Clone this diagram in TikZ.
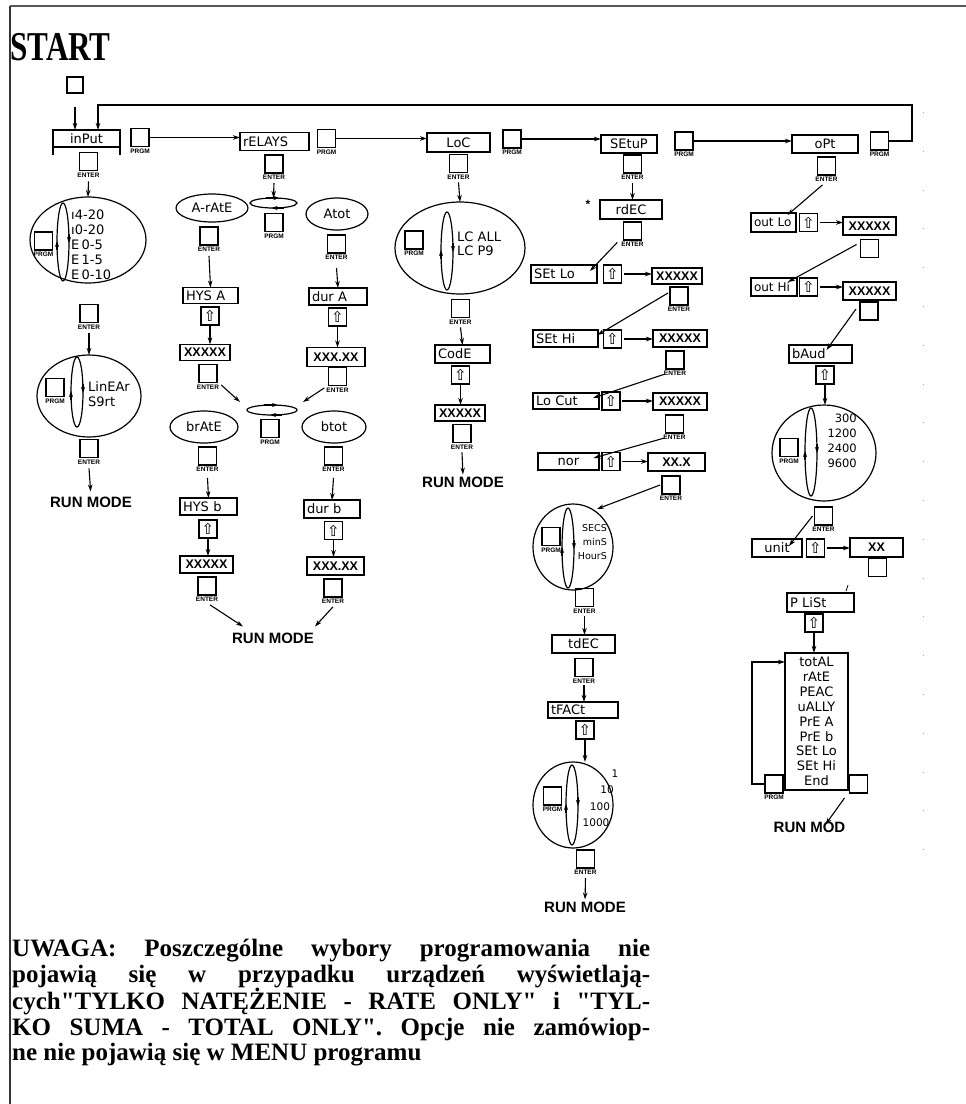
\documentclass[tikz,border=0pt]{standalone}
\usepackage{fontspec}
\setmainfont{Liberation Serif}[Ligatures=TeXOff]
\newfontfamily\dispf{DejaVu Sans}
\newfontfamily\lblf{Liberation Sans}
\usetikzlibrary{shapes.geometric,arrows.meta,calc}
\frenchspacing
\tikzset{
  box/.style={draw, line width=1.2pt, inner sep=0pt, outer sep=0pt, font=\dispf\fontsize{13}{13}\selectfont},
  xbox/.style={draw, line width=1.2pt, inner sep=0pt, outer sep=0pt, font=\lblf\bfseries\fontsize{12.5}{12.5}\selectfont},
  key/.style={draw, line width=1.2pt, minimum width=18pt, minimum height=18pt, inner sep=0pt, outer sep=0pt},
  upk/.style={draw, line width=1.2pt, minimum width=18pt, minimum height=18pt, inner sep=0pt, outer sep=0pt, font=\dispf\fontsize{15}{15}\selectfont},
  lbl/.style={font=\lblf\bfseries\fontsize{6.5}{6.5}\selectfont, inner sep=0pt},
  run/.style={font=\lblf\bfseries\fontsize{15}{15}\selectfont, inner sep=0pt},
  dtxt/.style={font=\dispf\fontsize{13}{13}\selectfont, inner sep=0pt},
  stxt/.style={font=\dispf\fontsize{9.5}{9.5}\selectfont, inner sep=0pt},
  oval/.style={draw, ellipse, line width=1.2pt, inner sep=0pt, outer sep=0pt},
  arr/.style={line width=1.1pt, -{Stealth[length=7pt,width=4.5pt]}},
  tipa/.style={line width=1.1pt, -{Stealth[length=6pt,width=4pt]}}
}
\newcommand\mykey[4]{%
  \node[key] (#1) at (#2,#3) {};
  \node[lbl,anchor=north] (#1l) at ([yshift=-2pt]#1.south) {#4};}
\newcommand\myloop[4]{%
  \node[oval, minimum width=12pt, minimum height=#4] (#1) at (#2,#3) {};
  \draw[tipa] ([yshift=-8pt]#1.west) -- ([yshift=1pt]#1.west);
  \draw[tipa] ([yshift=8pt]#1.east) -- ([yshift=-1pt]#1.east);}
\newcommand\myswap[4]{%
  \node[oval, minimum width=#4, minimum height=10pt] (#1) at (#2,#3) {};
  \draw[tipa] ([xshift=-8pt]#1.north) -- ([xshift=6pt]#1.north);
  \draw[tipa] ([xshift=10pt]#1.south) -- ([xshift=-2pt]#1.south);}
\begin{document}
\begin{tikzpicture}[x=1pt,y=-1pt]
\useasboundingbox (0,0) rectangle (966,1104);
% frame
\draw[line width=2pt, black!65] (10,6) -- (966,6);
\draw[line width=1.2pt, black!80] (10,6) -- (10,1104);
\draw[black!35, line width=0.8pt, dash pattern=on 0.8pt off 38pt] (923,112) -- (923,860);

\node[font=\bfseries\fontsize{41}{41}\selectfont, anchor=base west, inner sep=0pt] (start) at (10,60) {\scalebox{0.76}[1]{START}};

% ---------- column 1: inPut
\node[key, minimum width=16pt, minimum height=16pt] (sq0) at (75,85) {};
\node[box, minimum width=67pt, minimum height=17pt] (inp) at (86.5,138.5) {inPut};
\draw[line width=1.2pt] (inp.south west) -- ++(0,8);
\draw[line width=1.2pt] (inp.south east) -- ++(0,8);
\draw[arr] ([yshift=-14pt]sq0.south) -- (sq0.south |- inp.north);
\mykey{inpP}{140}{137.5}{PRGM}
\mykey{inpE}{88.5}{161.5}{ENTER}
\node[oval, minimum width=116pt, minimum height=86pt] (ell1) at (88,240) {};
\draw[arr] ([yshift=-4pt]inpEl.south) -- (ell1.north);
\mykey{e1P}{43.5}{241}{PRGM}
\myloop{lp1}{63}{242}{78pt}
\node[dtxt, anchor=west] (i1) at (71,215) {ı4-20};
\node[dtxt, anchor=west] (i2) at (71,230) {ı0-20};
\node[dtxt, anchor=west] (i3) at (71,245) {E\,0-5};
\node[dtxt, anchor=west] (i4) at (71,260) {E\,1-5};
\node[dtxt, anchor=west] (i5) at (71,275) {E\,0-10};
\mykey{e1E}{89}{313.5}{ENTER}
\node[oval, minimum width=104pt, minimum height=82pt] (ell2) at (89,396) {};
\draw[arr] ([yshift=-4pt]e1El.south) -- (ell2.north);
\mykey{e2P}{55}{387.5}{PRGM}
\myloop{lp2}{77}{392}{70pt}
\node[dtxt, anchor=west] (l1) at (88,387) {LinEAr};
\node[dtxt, anchor=west] (l2) at (88,402) {S9rt};
\mykey{e2E}{89}{448.5}{ENTER}
\node[run] (run1) at (91,502) {RUN MODE};
\draw[arr, shorten >=5pt] ([yshift=-4pt]e2El.south) -- (run1.north);

% ---------- column 2: rELAYS
\node[box, minimum height=18pt, text width=63pt, inner xsep=3pt, align=left] (rel) at (274.5,141.5) {rELAYS};
\draw[arr] (inpP.east) -- (inpP.east -| rel.west);
\mykey{relP}{326.5}{138.5}{PRGM}
\mykey{relE}{274}{164}{ENTER}
\myswap{sw1}{273.5}{203}{47pt}
\draw[arr] ([yshift=-3pt]relEl.south) -- (sw1.north);
\mykey{sw1P}{274}{222.5}{PRGM}
\node[oval, minimum width=72pt, minimum height=28pt, font=\dispf\fontsize{13}{13}\selectfont] (arate) at (212,208) {A-rAtE};
\mykey{araE}{209}{236}{ENTER}
\node[box, minimum height=16pt, text width=49pt, inner xsep=3pt, align=left] (hysa) at (210.5,295.5) {HYS A};
\draw[arr] ([yshift=-4pt]araEl.south) -- (hysa.north);
\node[upk] (uka) at (210,316) {⇧};
\node[xbox, minimum width=50pt, minimum height=16pt] (xa) at (205,352.5) {XXXXX};
\draw[arr] (uka.south) -- (uka.south |- xa.north);
\mykey{xaE}{208}{373.5}{ENTER}
\node[oval, minimum width=62pt, minimum height=32pt, font=\dispf\fontsize{13}{13}\selectfont] (atot) at (337,214) {Atot};
\mykey{atE}{336.5}{244}{ENTER}
\node[box, minimum height=17pt, text width=52pt, inner xsep=3pt, align=left] (dura) at (338,296.5) {dur A};
\draw[arr] ([yshift=-8pt]atEl.south) -- (dura.north);
\node[upk] (ukA2) at (337.5,317) {⇧};
\node[xbox, minimum width=58pt, minimum height=19pt] (xxa) at (336,357) {XXX.XX};
\draw[arr] (ukA2.south) -- (ukA2.south |- xxa.north);
\mykey{xxaE}{337.5}{376.5}{ENTER}
\myswap{sw2}{272}{410}{50pt}
\draw[arr] ([xshift=2pt,yshift=2pt]xaEl.east) -- ([xshift=-7pt,yshift=8pt]sw2.west);
\draw[arr] ([xshift=-2pt,yshift=2pt]xxaEl.west) -- ([xshift=6pt,yshift=8pt]sw2.east);
\mykey{sw2P}{270}{428.5}{PRGM}
\node[oval, minimum width=68pt, minimum height=32pt, font=\dispf\fontsize{13}{13}\selectfont] (brate) at (204,427) {brAtE};
\mykey{brE}{207.5}{456}{ENTER}
\node[box, minimum height=17pt, text width=51pt, inner xsep=3pt, align=left] (hysb) at (208.5,506.5) {HYS b};
\draw[arr] ([yshift=-6pt]brEl.south) -- (hysb.north);
\node[upk] (ukb) at (208,529) {⇧};
\node[xbox, minimum width=53pt, minimum height=17pt] (xb) at (206.5,564.5) {XXXXX};
\draw[arr] (ukb.south) -- (ukb.south |- xb.north);
\mykey{xbE}{207}{586}{ENTER}
\node[oval, minimum width=64pt, minimum height=32pt, font=\dispf\fontsize{13}{13}\selectfont] (btot) at (334,427) {btot};
\mykey{btE}{333.5}{456}{ENTER}
\node[box, minimum height=18pt, text width=50pt, inner xsep=3pt, align=left] (durb) at (332,509) {dur b};
\draw[arr] ([yshift=-6pt]btEl.south) -- (durb.north);
\node[upk] (ukB2) at (333.5,530.5) {⇧};
\node[xbox, minimum width=57pt, minimum height=18pt] (xxb) at (335.5,566) {XXX.XX};
\draw[arr] (ukB2.south) -- (ukB2.south |- xxb.north);
\mykey{xxbE}{333}{588}{ENTER}
\node[run] (run2) at (273,638) {RUN MODE};
\draw[arr] ([xshift=3pt,yshift=-3pt]xbEl.south) -- ([xshift=-30pt,yshift=6pt]run2.north);
\draw[arr] ([xshift=0pt,yshift=-3pt]xxbEl.south) -- ([xshift=42pt,yshift=6pt]run2.north);

% ---------- column 3: LoC
\node[box, minimum width=63pt, minimum height=19pt] (loc) at (458.5,142.5) {LoC};
\draw[arr] (relP.east) -- (relP.east -| loc.west);
\mykey{locP}{512}{139}{PRGM}
\mykey{locE}{458.5}{163.5}{ENTER}
\node[oval, minimum width=130pt, minimum height=92pt] (locell) at (460,248) {};
\draw[arr] ([yshift=-3pt]locEl.south) -- (locell.north);
\mykey{lcP}{414}{240}{PRGM}
\myloop{lp3}{447}{251}{78pt}
\node[dtxt, anchor=west] (lc1) at (457,237) {LC ALL};
\node[dtxt, anchor=west] (lc2) at (457,251) {LC P9};
\mykey{lcE}{460.5}{308.5}{ENTER}
\node[box, minimum height=18pt, text width=49pt, inner xsep=3pt, align=left] (code) at (462.5,354) {CodE};
\draw[arr] ([yshift=-3pt]lcEl.south) -- (code.north);
\node[upk] (ukc) at (460.5,375) {⇧};
\node[xbox, minimum width=50pt, minimum height=16pt] (xc) at (460,413) {XXXXX};
\draw[arr] (ukc.south) -- (ukc.south |- xc.north);
\mykey{xcE}{462}{433.5}{ENTER}
\node[run] (run3) at (463,482) {RUN MODE};
\draw[arr, shorten >=2pt] ([yshift=-3pt]xcEl.south) -- (run3.north);

% ---------- column 4: SEtuP
\node[box, minimum width=56pt, minimum height=18pt] (setup) at (629,144) {SEtuP};
\draw[arr] (locP.east) -- (locP.east -| setup.west);
\mykey{setP}{684}{141}{PRGM}
\mykey{setE}{632.5}{164}{ENTER}
\node[font=\lblf\bfseries\fontsize{12}{12}\selectfont, inner sep=0pt] (star) at (588,204) {*};
\node[box, minimum width=62pt, minimum height=19pt] (rdec) at (631,209.5) {rdEC};
\draw[arr] ([yshift=-3pt]setEl.south) -- (rdec.north -| setE);
\mykey{rdE}{632.5}{231}{ENTER}
\node[box, minimum height=18pt, text width=60pt, inner xsep=3pt, align=left] (setlo) at (564,274) {SEt Lo};
\draw[arr] ([xshift=-4pt,yshift=2pt]rdEl.west) -- ([xshift=26pt,yshift=-6pt]setlo.north);
\node[upk] (uk1) at (612.5,274) {⇧};
\node[xbox, minimum width=50pt, minimum height=16pt] (x1) at (677,276) {XXXXX};
\draw[arr] ([xshift=2pt]uk1.east) -- (uk1.east -| x1.west);
\mykey{x1E}{679}{296}{ENTER}
\node[box, minimum height=17pt, text width=59pt, inner xsep=3pt, align=left] (sethi) at (565.5,338.5) {SEt Hi};
\draw[arr] ([xshift=-2pt,yshift=3pt]x1E.west) -- ([xshift=32pt,yshift=-5pt]sethi.north);
\node[upk] (uk2) at (612.5,339) {⇧};
\node[xbox, minimum width=54pt, minimum height=17pt] (x2) at (680,338.5) {XXXXX};
\draw[arr] ([xshift=2pt]uk2.east) -- (uk2.east -| x2.west);
\mykey{x2E}{675}{360}{ENTER}
\node[box, minimum height=16pt, text width=60pt, inner xsep=3pt, align=left] (locut) at (566,401) {Lo Cut};
\draw[arr] ([xshift=-10pt,yshift=-5pt]x2E.south) -- ([xshift=27pt,yshift=-5pt]locut.north);
\node[upk] (uk3) at (611,401) {⇧};
\node[xbox, minimum width=54pt, minimum height=17pt] (x3) at (680,401.5) {XXXXX};
\draw[arr] ([xshift=2pt]uk3.east) -- (uk3.east -| x3.west);
\mykey{x3E}{674.5}{424}{ENTER}
\node[box, minimum width=61pt, minimum height=17pt] (nor) at (568.5,461.5) {nor};
\draw[arr] ([xshift=-10pt,yshift=-5pt]x3E.south) -- ([xshift=25pt,yshift=-5pt]nor.north);
\node[upk] (uk4) at (611,461.5) {⇧};
\node[xbox, minimum width=57pt, minimum height=18pt] (x4) at (676.5,462) {XX.X};
\draw[arr] ([xshift=2pt]uk4.east) -- (uk4.east -| x4.west);
\mykey{x4E}{671}{485}{ENTER}
\node[oval, minimum width=80pt, minimum height=86pt] (tell) at (573,547) {};
\draw[arr] ([xshift=-2pt]x4E.west) -- ([xshift=24pt,yshift=-5pt]tell.north);
\mykey{tP}{551}{536.5}{PRGM}
\myloop{lp4}{568}{548}{80pt}
\node[stxt, anchor=east] (s1) at (607,528) {SECS};
\node[stxt, anchor=east] (s2) at (607,542) {minS};
\node[stxt, anchor=east] (s3) at (607,556) {HourS};
\mykey{tE}{584.5}{597.5}{ENTER}
\node[box, minimum width=63pt, minimum height=18pt] (tdec) at (583.5,644) {tdEC};
\draw[arr] ([yshift=-3pt]tEl.south) -- (tdec.north -| tE);
\mykey{tdE}{584}{667.5}{ENTER}
\node[box, minimum height=16pt, text width=64pt, inner xsep=3pt, align=left] (tfact) at (583,710) {tFACt};
\draw[arr] ([yshift=-2pt]tdEl.south) -- (tfact.north -| tdE);
\node[upk] (ukt) at (585,730) {⇧};
\node[oval, minimum width=80pt, minimum height=86pt] (fell) at (573,805) {};
\draw[arr] (ukt.south) -- (ukt.south |- fell.north);
\mykey{fP}{552.5}{796}{PRGM}
\myloop{lp5}{572}{805}{80pt}
\node[stxt, font=\dispf\fontsize{10.5}{10.5}\selectfont] (f1) at (615,774) {1};
\node[stxt, font=\dispf\fontsize{10.5}{10.5}\selectfont] (f2) at (607,790) {10};
\node[stxt, font=\dispf\fontsize{10.5}{10.5}\selectfont] (f3) at (600,807) {100};
\node[stxt, font=\dispf\fontsize{10.5}{10.5}\selectfont] (f4) at (596,823) {1000};
\mykey{fE}{585.5}{859}{ENTER}
\node[run] (run4) at (585,907) {RUN MODE};
\draw[arr, shorten >=2pt] ([yshift=-3pt]fEl.south) -- (run4.north);

% ---------- column 5: oPt
\node[box, minimum width=66pt, minimum height=18pt] (opt) at (825,144) {oPt};
\draw[arr] (setP.east) -- (setP.east -| opt.west);
\mykey{optP}{879.5}{141}{PRGM}
\coordinate (fbR) at (912,105);
\coordinate (fbL) at (98,105);
\draw[arr, line width=1.6pt] (optP.east) -| (fbR) -- (fbL) -- (fbL |- inp.north);
\mykey{optE}{826.5}{166}{ENTER}
\node[box, font=\dispf\fontsize{12}{12}\selectfont, minimum height=19pt, text width=39pt, inner xsep=3pt, align=left] (outlo) at (773.5,222.5) {out Lo};
\draw[arr] ([xshift=-4pt,yshift=-3pt]optEl.south) -- ([xshift=14pt,yshift=-2pt]outlo.north);
\node[upk] (uk5) at (808.5,222.5) {⇧};
\node[xbox, minimum width=53pt, minimum height=18pt] (x5) at (869.5,226) {XXXXX};
\draw[arr] ([xshift=2pt]uk5.east) -- (uk5.east -| x5.west);
\node[key] (x5k) at (869.5,248.5) {};
\node[box, font=\dispf\fontsize{12}{12}\selectfont, minimum height=18pt, text width=40pt, inner xsep=3pt, align=left] (outhi) at (774,287) {out Hi};
\draw[arr] ([xshift=-4pt,yshift=4pt]x5k.west) -- ([xshift=14pt,yshift=-4pt]outhi.north);
\node[upk] (uk6) at (808.5,287) {⇧};
\node[xbox, minimum width=53pt, minimum height=18pt] (x6) at (869.5,291) {XXXXX};
\draw[arr] ([xshift=2pt]uk6.east) -- (uk6.east -| x6.west);
\node[key] (x6k) at (869,311) {};
\node[box, minimum height=18pt, text width=57pt, inner xsep=3pt, align=left] (baud) at (820.5,354) {bAud};
\draw[arr] ([xshift=-4pt,yshift=2pt]x6k.west) -- ([xshift=6pt,yshift=-5pt]baud.north);
\node[upk] (ukbd) at (825,375) {⇧};
\node[oval, minimum width=104pt, minimum height=96pt] (bell) at (824,453) {};
\draw[arr] (ukbd.south) -- (ukbd.south |- bell.north);
\mykey{bP}{789}{447.5}{PRGM}
\myloop{lp6}{811}{452}{88pt}
\node[dtxt, font=\dispf\fontsize{11.5}{11.5}\selectfont, anchor=east] (b1) at (857,418) {300};
\node[dtxt, font=\dispf\fontsize{11.5}{11.5}\selectfont, anchor=east] (b2) at (857,433) {1200};
\node[dtxt, font=\dispf\fontsize{11.5}{11.5}\selectfont, anchor=east] (b3) at (857,448) {2400};
\node[dtxt, font=\dispf\fontsize{11.5}{11.5}\selectfont, anchor=east] (b4) at (857,463) {9600};
\mykey{bE}{823.5}{516}{ENTER}
\node[box, minimum width=50pt, minimum height=18pt] (unit) at (777,548) {unit};
\draw[arr] ([xshift=-2pt]bE.west) -- ([xshift=12pt,yshift=-7pt]unit.north);
\node[upk] (uk7) at (815.5,548) {⇧};
\node[xbox, minimum width=53pt, minimum height=19pt] (xx7) at (876.5,547.5) {XX};
\draw[arr] ([xshift=2pt]uk7.east) -- (uk7.east -| xx7.west);
\node[key] (xx7k) at (877.5,567.5) {};
\coordinate (tk1) at (846,591);
\coordinate (tk2) at (848,585);
\draw[line width=0.8pt] (tk1) -- (tk2);
\node[box, minimum height=19pt, text width=61pt, inner xsep=3pt, align=left] (plist) at (820.5,602.5) {P LiSt};
\node[upk] (ukp) at (814,623) {⇧};
\node[draw, line width=1.2pt, minimum width=63pt, minimum height=137pt, inner sep=0pt, outer sep=0pt] (list) at (816.5,721.5) {};
\draw[arr] (ukp.south) -- (ukp.south |- list.north);
\foreach \t [count=\i] in {totAL,rAtE,PEAC,uALLY,PrE A,PrE b,SEt Lo,SEt Hi,End}
  \node[dtxt] (it\i) at (816.5,{662+(\i-1)*14.875}) {\t};
\mykey{lP}{774}{784}{PRGM}
\draw[arr] (lP.west) -- ++(-13,0) |- (list.west |- it1);
\node[key] (lE) at (858.5,784) {};
\node[run] (run5) at (809.5,827) {RUN MOD};
\draw[arr] ([xshift=-14pt,yshift=-5pt]lE.south) -- ([xshift=16pt,yshift=-3pt]run5.north);

% ---------- note
\node[anchor=north west, inner sep=0pt, align=left, font=\bfseries\fontsize{25}{25.5}\selectfont] (note) at (12,939) {%
\makebox[638pt][s]{UWAGA: Poszczególne wybory programowania nie}\\
\makebox[638pt][s]{pojawią się w przypadku urządzeń wyświetlają-}\\
\makebox[638pt][s]{cych"TYLKO NATĘŻENIE - RATE ONLY" i "TYL-}\\
\makebox[638pt][s]{KO SUMA - TOTAL ONLY". Opcje nie zamówiop-}\\
ne nie pojawią się w MENU programu};
\end{tikzpicture}
\end{document}
